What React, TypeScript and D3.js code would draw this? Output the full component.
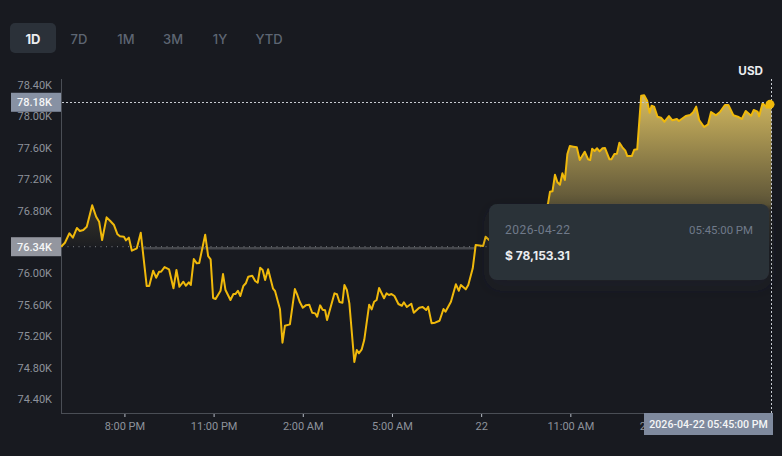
import React, { useRef, useEffect } from "react"
import * as d3 from "d3"

const ranges = ["1D", "7D", "1M", "3M", "1Y", "YTD"]
const rangeCenters = [33, 79, 126, 173, 220, 269]

// minutes since 2026-04-21 05:51 PM
const minutes = [
  0, 8, 17, 24, 32, 38, 45, 52, 63, 71, 77, 83, 92, 99, 107, 114, 119, 127, 131, 137,
  143, 153, 161, 173, 178, 186, 192, 198, 202, 209, 218, 227, 233, 239, 247, 252, 258, 262, 268, 274,
  279, 291, 297, 302, 307, 312, 322, 327, 332, 342, 348, 352, 357, 362, 368, 373, 378, 386, 392, 397,
  402, 407, 412, 418, 428, 432, 442, 447, 452, 462, 472, 477, 482, 488, 494, 501, 507, 513, 517, 523,
  528, 533, 537, 552, 557, 562, 568, 572, 577, 582, 592, 597, 601, 607, 612, 622, 627, 632, 637, 642,
  652, 657, 662, 667, 673, 681, 688, 692, 698, 707, 712, 723, 730, 737, 741, 748, 755, 764, 772, 776,
  787, 797, 803, 807, 817, 822, 831, 837, 852, 857, 864, 886, 916, 947, 973, 983, 987, 992, 997, 1002,
  1007, 1012, 1017, 1022, 1027, 1034, 1041, 1047, 1057, 1064, 1068, 1072, 1077, 1082, 1087, 1093, 1098, 1107, 1111, 1117,
  1122, 1127, 1133, 1139, 1143, 1152, 1157, 1163, 1171, 1177, 1183, 1188, 1192, 1197, 1204, 1211, 1218, 1227, 1234, 1243,
  1247, 1261, 1270, 1276, 1282, 1288, 1298, 1306, 1312, 1322, 1330, 1340, 1347, 1357, 1366, 1374, 1382, 1393, 1398, 1406,
  1409, 1416, 1425, 1434,
]

const prices = [
  76340, 76391, 76511, 76455, 76578, 76540, 76553, 76595, 76867, 76722, 76658, 76425, 76714, 76671, 76616, 76498, 76472, 76467, 76421, 76455,
  76289, 76320, 76518, 75839, 75839, 76034, 75945, 76021, 76021, 76081, 76052, 75810, 76043, 75830, 75894, 75843, 75886, 75852, 76183, 76128,
  76132, 76493, 76221, 76179, 75686, 75674, 75779, 75992, 75788, 75661, 75737, 75737, 75779, 75712, 75839, 75874, 75958, 75970, 75903, 75881,
  76072, 76043, 75916, 76052, 75805, 75776, 75542, 75117, 75334, 75351, 75801, 75725, 75635, 75563, 75593, 75601, 75499, 75491, 75448, 75593,
  75537, 75530, 75406, 75746, 75734, 75635, 75627, 75852, 75788, 75619, 74871, 75024, 74982, 75033, 75151, 75601, 75542, 75639, 75661, 75814,
  75683, 75746, 75725, 75737, 75712, 75610, 75588, 75632, 75572, 75614, 75499, 75563, 75572, 75533, 75576, 75364, 75372, 75397, 75546, 75512,
  75639, 75861, 75779, 75852, 75797, 75852, 76065, 76362, 76349, 76467, 76425, 76464, 76527, 76616, 76744, 76893, 77041, 77046, 77257, 77160,
  77130, 77275, 77190, 77521, 77623, 77614, 77606, 77444, 77550, 77453, 77444, 77588, 77559, 77594, 77555, 77594, 77597, 77453, 77453, 77521,
  77525, 77665, 77606, 77563, 77495, 77495, 77576, 77581, 78264, 78269, 78200, 78047, 78136, 78124, 77996, 77983, 77932, 78005, 77950, 77967,
  77941, 78005, 78018, 78052, 78124, 77954, 77865, 77899, 78056, 78014, 78056, 78145, 78145, 78014, 77996, 77967, 78069, 78009, 78081, 78060,
  78001, 78167, 78111, 78153.31,
]

const priceTicks = [74400, 74800, 75200, 75600, 76000, 76800, 77200, 77600, 78000, 78400]
const timeTicks = [
  new Date(2026, 3, 21, 20),
  new Date(2026, 3, 21, 23),
  new Date(2026, 3, 22, 2),
  new Date(2026, 3, 22, 5),
  new Date(2026, 3, 22, 8),
  new Date(2026, 3, 22, 11),
  new Date(2026, 3, 22, 14),
]
const timeLabels = ["8:00 PM", "11:00 PM", "2:00 AM", "5:00 AM", "22", "11:00 AM", "2:00 PM"]

const startTime = new Date(2026, 3, 21, 17, 51)
const endTime = new Date(2026, 3, 22, 17, 45)
const basePrice = 76340
const crossPrice = 78180
const lastPrice = 78153.31
const belowBaseRange = [165, 836] // minutes where the gray band sits on the baseline

const BG = "#181a20"
const YELLOW = "#f0b90b"
const FILL = "rgb(236,206,104)"
const FONT = "Inter, Roboto, sans-serif"
const AXIS_FONT = "Roboto, sans-serif"

const App: React.FC = () => {
  const svgRef = useRef<SVGSVGElement>(null)

  useEffect(() => {
    if (!svgRef.current) return
    const svg = d3.select(svgRef.current)
    svg.selectAll("*").remove()

    const x = d3.scaleTime().domain([startTime, endTime]).range([61, 771.5])
    const y = d3.scaleLinear().domain([74400, 78400]).range([399, 85])
    const rows = minutes.map((m, i) => ({
      date: new Date(startTime.getTime() + m * 60000),
      price: prices[i],
    }))
    const baseY = y(basePrice)
    const atMinute = (m: number) => new Date(startTime.getTime() + m * 60000)

    const defs = svg.append("defs")
    const grad = defs
      .append("linearGradient")
      .attr("id", "upFill")
      .attr("gradientUnits", "userSpaceOnUse")
      .attr("x1", 0)
      .attr("x2", 0)
      .attr("y1", y(78269))
      .attr("y2", baseY)
    grad.append("stop").attr("offset", 0).attr("stop-color", FILL).attr("stop-opacity", 0.88)
    grad.append("stop").attr("offset", 0.72).attr("stop-color", FILL).attr("stop-opacity", 0.32)
    grad.append("stop").attr("offset", 0.76).attr("stop-color", FILL).attr("stop-opacity", 0.13)
    grad.append("stop").attr("offset", 1).attr("stop-color", FILL).attr("stop-opacity", 0.02)
    defs
      .append("clipPath")
      .attr("id", "aboveBase")
      .append("rect")
      .attr("x", 61)
      .attr("y", 0)
      .attr("width", 711)
      .attr("height", baseY)
    const shadow = defs
      .append("filter")
      .attr("id", "tipShadow")
      .attr("x", "-10%")
      .attr("y", "-20%")
      .attr("width", "120%")
      .attr("height", "150%")
    shadow
      .append("feDropShadow")
      .attr("dx", 0)
      .attr("dy", 6)
      .attr("stdDeviation", 8)
      .attr("flood-color", "#2b3139")
      .attr("flood-opacity", 0.3)

    svg.append("rect").attr("width", 782).attr("height", 456).attr("fill", BG)

    // range buttons
    svg
      .append("rect")
      .attr("x", 10)
      .attr("y", 23)
      .attr("width", 46)
      .attr("height", 30)
      .attr("rx", 5)
      .attr("fill", "#2b3139")
    svg
      .selectAll(".range")
      .data(ranges)
      .enter()
      .append("text")
      .attr("x", (_, i) => rangeCenters[i])
      .attr("y", 44)
      .attr("text-anchor", "middle")
      .attr("font-family", FONT)
      .attr("font-size", 13)
      .attr("font-weight", (_, i) => (i === 0 ? 700 : 500))
      .attr("fill", (_, i) => (i === 0 ? "#eaecef" : "#5e6673"))
      .text((d) => d)

    // axes
    const yAxis = d3
      .axisLeft(y)
      .tickValues(priceTicks)
      .tickSize(0)
      .tickPadding(9)
      .tickFormat((d) => (Number(d) / 1000).toFixed(2) + "K")
    const yG = svg.append("g").attr("transform", "translate(61,0)").call(yAxis)
    yG.select(".domain").remove()
    yG.selectAll("text").attr("font-family", AXIS_FONT).attr("font-size", 11).attr("fill", "#8d929b")

    const xAxis = d3
      .axisBottom(x)
      .tickValues(timeTicks)
      .tickSize(4)
      .tickPadding(5)
      .tickFormat((_, i) => timeLabels[i])
    const xG = svg.append("g").attr("transform", "translate(-0.5,413)").call(xAxis)
    xG.select(".domain").remove()
    xG.selectAll("line").attr("stroke", "#b7bdc6")
    xG.selectAll("text").attr("font-family", AXIS_FONT).attr("font-size", 11).attr("fill", "#8d929b")

    svg.append("line").attr("x1", 61.5).attr("x2", 61.5).attr("y1", 79).attr("y2", 413.5).attr("stroke", "#4a4e55")
    svg.append("line").attr("x1", 61).attr("x2", 772).attr("y1", 413.5).attr("y2", 413.5).attr("stroke", "#4a4e55")

    // baseline band and dots
    svg
      .append("line")
      .attr("x1", x(atMinute(belowBaseRange[0])))
      .attr("x2", x(atMinute(belowBaseRange[1])))
      .attr("y1", baseY + 1.5)
      .attr("y2", baseY + 1.5)
      .attr("stroke", "#45474c")
      .attr("stroke-width", 2.5)
    svg
      .append("line")
      .attr("x1", 62)
      .attr("x2", 771)
      .attr("y1", baseY)
      .attr("y2", baseY)
      .attr("stroke", "#7c8087")
      .attr("stroke-dasharray", "1 4.5")

    // price area above the baseline and the line
    const area = d3
      .area<{ date: Date; price: number }>()
      .x((d) => x(d.date))
      .y0(baseY)
      .y1((d) => y(d.price))
    svg
      .append("path")
      .datum(rows)
      .attr("d", area)
      .attr("fill", "url(#upFill)")
      .attr("clip-path", "url(#aboveBase)")
    const line = d3
      .line<{ date: Date; price: number }>()
      .x((d) => x(d.date))
      .y((d) => y(d.price))
    svg
      .append("path")
      .datum(rows)
      .attr("d", line)
      .attr("fill", "none")
      .attr("stroke", YELLOW)
      .attr("stroke-width", 2)
      .attr("stroke-linejoin", "round")

    // crosshair
    svg
      .append("line")
      .attr("x1", 62)
      .attr("x2", 771)
      .attr("y1", Math.round(y(crossPrice)) + 0.5)
      .attr("y2", Math.round(y(crossPrice)) + 0.5)
      .attr("stroke", "#c8ccd2")
      .attr("stroke-dasharray", "2 2")
    svg
      .append("line")
      .attr("x1", 771.5)
      .attr("x2", 771.5)
      .attr("y1", 79)
      .attr("y2", 413)
      .attr("stroke", "#c8ccd2")
      .attr("stroke-dasharray", "2 2")
    svg
      .append("circle")
      .attr("cx", x(endTime) - 1.5)
      .attr("cy", y(lastPrice))
      .attr("r", 4.5)
      .attr("fill", YELLOW)

    // highlighted price labels
    const badges = [
      { price: crossPrice, fill: "#8791a3" },
      { price: basePrice, fill: "#93969f" },
    ]
    badges.forEach((b) => {
      svg
        .append("rect")
        .attr("x", 11)
        .attr("y", y(b.price) - 9.5)
        .attr("width", 50)
        .attr("height", 19)
        .attr("fill", b.fill)
      svg
        .append("text")
        .attr("x", 52)
        .attr("y", y(b.price) + 4)
        .attr("text-anchor", "end")
        .attr("font-family", AXIS_FONT)
        .attr("font-size", 11)
        .attr("font-weight", 500)
        .attr("fill", "#f5f6f7")
        .text((b.price / 1000).toFixed(2) + "K")
    })

    svg.append("rect").attr("x", 644).attr("y", 413).attr("width", 129).attr("height", 22).attr("fill", "#7f8a9e")
    svg
      .append("text")
      .attr("x", 708.5)
      .attr("y", 428)
      .attr("text-anchor", "middle")
      .attr("font-family", AXIS_FONT)
      .attr("font-size", 10.6)
      .attr("font-weight", 500)
      .attr("fill", "#f5f6f7")
      .text("2026-04-22 05:45:00 PM")

    svg
      .append("text")
      .attr("x", 763)
      .attr("y", 75)
      .attr("text-anchor", "end")
      .attr("font-family", FONT)
      .attr("font-size", 11.7)
      .attr("font-weight", 700)
      .attr("fill", "#eaecef")
      .text("USD")

    // tooltip
    svg
      .append("rect")
      .attr("x", 489)
      .attr("y", 204)
      .attr("width", 280)
      .attr("height", 76)
      .attr("rx", 8)
      .attr("fill", "#2b3139")
      .attr("filter", "url(#tipShadow)")
    svg
      .append("text")
      .attr("x", 505)
      .attr("y", 234)
      .attr("font-family", AXIS_FONT)
      .attr("font-size", 12)
      .attr("letter-spacing", 0.5)
      .attr("fill", "#707a8a")
      .text("2026-04-22")
    svg
      .append("text")
      .attr("x", 753)
      .attr("y", 234)
      .attr("text-anchor", "end")
      .attr("font-family", AXIS_FONT)
      .attr("font-size", 11.4)
      .attr("fill", "#707a8a")
      .text("05:45:00 PM")
    svg
      .append("text")
      .attr("x", 505)
      .attr("y", 260)
      .attr("font-family", FONT)
      .attr("font-size", 12)
      .attr("font-weight", 700)
      .attr("fill", "#eaecef")
      .text("$ " + d3.format(",.2f")(lastPrice))
  }, [])

  return (
    <svg
      ref={svgRef}
      width={782}
      height={456}
      style={{ position: "absolute", left: 0, top: 0, display: "block" }}
    />
  )
}

export default App
